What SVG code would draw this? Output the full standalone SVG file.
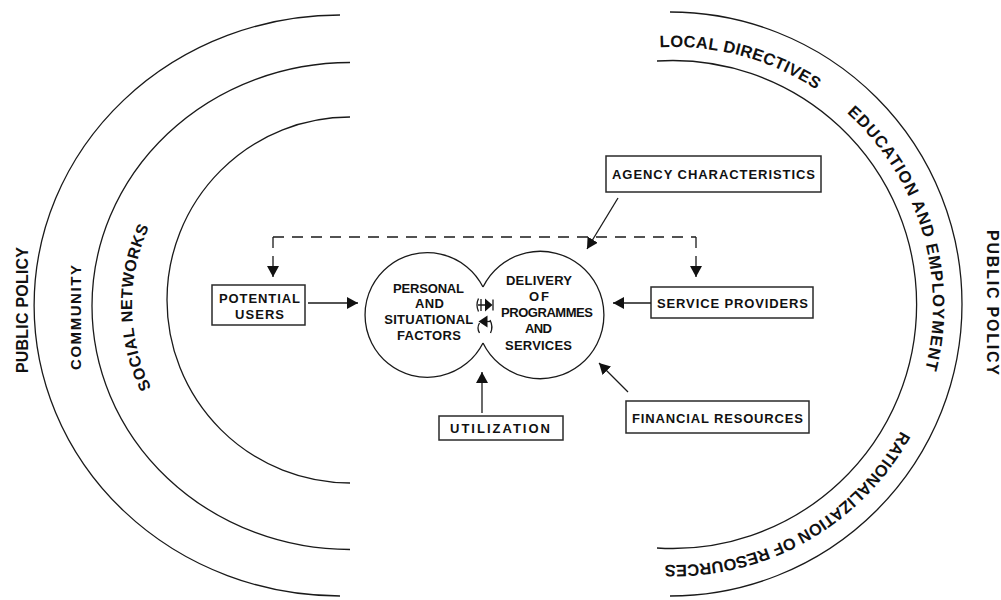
<svg xmlns="http://www.w3.org/2000/svg" xmlns:xlink="http://www.w3.org/1999/xlink" width="1001" height="600" viewBox="0 0 1001 600">
<style>
.arc{fill:none;stroke:#1a1a1a;stroke-width:1.3}
.box{fill:#fff;stroke:#2a2a2a;stroke-width:1.5}
.t{font-family:"Liberation Sans",Arial,Helvetica,sans-serif;font-weight:bold;fill:#111}
.lbl{font-size:13px}
.ring{font-size:16px}
.ringR{font-size:16.5px}
.conn{fill:none;stroke:#1a1a1a;stroke-width:1.3}
.dash{stroke-dasharray:11 8}
.fill{fill:#111;stroke:none}
</style>
<defs>
<marker id="ah" viewBox="0 0 11 12" refX="11" refY="6" markerWidth="11" markerHeight="12" markerUnits="userSpaceOnUse" orient="auto">
<path d="M0,0 L11,6 L0,12 z" fill="#111"/>
</marker>
<path id="rightRing" d="M 629.02 50.93 A 259 259 0 0 1 933 306 A 259 259 0 0 1 585.42 549.38"/>
<path id="socialPath" d="M 175.75 425.2 A 187 187 0 0 1 175.75 184.8"/>
</defs>

<g id="rings">
<path class="arc" d="M 340 15 A 306 290.5 0 0 0 340 596"/>
<path class="arc" d="M 350 62.5 A 258 243.5 0 0 0 350 549.5"/>
<path class="arc" d="M 350 117 A 183 183 0 0 0 350 483"/>
<path class="arc" d="M 670 12 A 292 292 0 1 1 670 596"/>
<path class="arc" d="M 657 61 A 244 244 0 1 1 657 548"/>
<text class="t ring" transform="translate(28,373) rotate(-90)" x="0" y="0" textLength="126" lengthAdjust="spacing">PUBLIC POLICY</text>
<text class="t" font-size="15" transform="translate(81,370) rotate(-90)" x="0" y="0" textLength="105" lengthAdjust="spacing">COMMUNITY</text>
<text class="t ring" letter-spacing="0.6"><textPath xlink:href="#socialPath" href="#socialPath" startOffset="44.6">SOCIAL NETWORKS</textPath></text>
<text class="t ring" transform="translate(987,230) rotate(90)" x="0" y="0" textLength="145" lengthAdjust="spacing">PUBLIC POLICY</text>
<text class="t ringR" letter-spacing="0.3"><textPath xlink:href="#rightRing" href="#rightRing" startOffset="31">LOCAL DIRECTIVES</textPath></text>
<text class="t ringR" letter-spacing="1.05"><textPath xlink:href="#rightRing" href="#rightRing" startOffset="234">EDUCATION AND EMPLOYMENT</textPath></text>
<text class="t ringR" letter-spacing="0"><textPath xlink:href="#rightRing" href="#rightRing" startOffset="582">RATIONALIZATION OF RESOURCES</textPath></text>
</g>

<g id="personal-factors">
<path class="arc" d="M 483 287 A 62.3 62.3 0 1 0 483 343"/>
<text class="t lbl" x="393" y="292.7" textLength="71" lengthAdjust="spacing">PERSONAL</text>
<text class="t lbl" x="415" y="308.3" textLength="29" lengthAdjust="spacing">AND</text>
<text class="t lbl" x="384.3" y="324" textLength="89" lengthAdjust="spacing">SITUATIONAL</text>
<text class="t lbl" x="397" y="340" textLength="64" lengthAdjust="spacing">FACTORS</text>
</g>

<g id="delivery">
<path class="arc" d="M 483 287 A 63.7 63.7 0 1 1 483 343"/>
<text class="t lbl" x="506" y="285" textLength="66" lengthAdjust="spacing">DELIVERY</text>
<text class="t lbl" x="529" y="301" textLength="20" lengthAdjust="spacing">OF</text>
<text class="t lbl" x="501" y="317.3" textLength="92" lengthAdjust="spacing">PROGRAMMES</text>
<text class="t lbl" x="525" y="333.3" textLength="27" lengthAdjust="spacing">AND</text>
<text class="t lbl" x="505" y="350" textLength="67" lengthAdjust="spacing">SERVICES</text>
</g>

<g id="potential-users">
<rect class="box" x="212" y="285" width="93" height="40"/>
<text class="t lbl" x="219" y="302.7" textLength="81" lengthAdjust="spacing">POTENTIAL</text>
<text class="t lbl" x="235" y="319.3" textLength="49" lengthAdjust="spacing">USERS</text>
</g>

<g id="agency-characteristics">
<rect class="box" x="606" y="156" width="215" height="36"/>
<text class="t lbl" x="612" y="179.3" textLength="203" lengthAdjust="spacing">AGENCY CHARACTERISTICS</text>
</g>

<g id="service-providers">
<rect class="box" x="651" y="287" width="162" height="31"/>
<text class="t lbl" x="657" y="308" textLength="151" lengthAdjust="spacing">SERVICE PROVIDERS</text>
</g>

<g id="financial-resources">
<rect class="box" x="626" y="401" width="183" height="32"/>
<text class="t lbl" x="632" y="422.7" textLength="171" lengthAdjust="spacing">FINANCIAL RESOURCES</text>
</g>

<g id="utilization">
<rect class="box" x="439" y="416" width="124" height="24"/>
<text class="t lbl" x="450" y="432.7" textLength="100" lengthAdjust="spacing">UTILIZATION</text>
</g>

<g id="connectors">
<path class="conn dash" d="M 273 237 L 696 237"/>
<path class="conn dash" d="M 273 237 L 273 277" marker-end="url(#ah)"/>
<path class="conn dash" d="M 696 237 L 696 277" marker-end="url(#ah)"/>
<path class="conn" d="M 618 198 L 587 249" marker-end="url(#ah)"/>
<path class="conn" d="M 308 303 L 358 303" marker-end="url(#ah)"/>
<path class="conn" d="M 651 303 L 613 303" marker-end="url(#ah)"/>
<path class="conn" d="M 628 392 L 599 363" marker-end="url(#ah)"/>
<path class="conn" d="M 482 413 L 482 372" marker-end="url(#ah)"/>
<g id="exchange">
<path class="conn" stroke-width="1" d="M 478.5 298.5 Q 475.5 305 478.5 311.5"/>
<path class="conn" stroke-width="1" d="M 481 299 L 481 311 M 478 305 L 486 305"/>
<path class="fill" d="M 485 298.5 L 492.5 305 L 485 311.5 z"/>
<path class="conn" stroke-width="1" d="M 493 299.5 L 493 310.5"/>
<path class="fill" d="M 487.5 315.5 L 478.5 321.5 L 487.5 327.5 z"/>
<path class="conn" stroke-width="1" d="M 487 321.5 L 491 321.5"/>
<path class="conn" stroke-width="1" d="M 479.5 323 Q 476.5 328 479.5 333"/>
<path class="conn" stroke-width="1" d="M 490 320 Q 493.5 326.5 490.5 333"/>
</g>
</g>
</svg>
